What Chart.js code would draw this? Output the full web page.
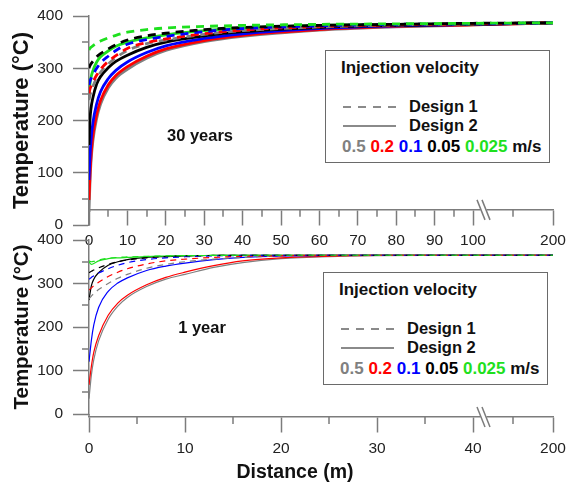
<!DOCTYPE html>
<html>
<head>
<meta charset="utf-8">
<script src="https://cdn.jsdelivr.net/npm/chart.js@4.4.1/dist/chart.umd.min.js"></script>
<style>
  body { margin: 0; background: #fff; font-family: "Liberation Sans", Arial, sans-serif; }
  #wrap { position: relative; width: 566px; height: 483px; overflow: hidden; }
  canvas { position: absolute; left: 0; }
  #top { top: 0; }
  #bottom { top: 230px; }
  .note { position: absolute; font-weight: bold; font-size: 16.5px; color: #111; white-space: nowrap; transform: translate(-50%, -50%); }
  #xtitle { position: absolute; left: 295px; top: 471px; font-weight: bold; font-size: 19.5px; color: #111; white-space: nowrap; transform: translate(-50%, -50%); }
  .key { position: absolute; box-sizing: border-box; width: 225px; height: 113px; border: 1.5px solid #6a6a6a; background: #fff; }
  .key div { position: absolute; white-space: nowrap; font-weight: bold; line-height: 1; color: #111; }
  .key .head { left: 15px; top: 8px; font-size: 17px; }
  .key .d1 { left: 83px; top: 47px; font-size: 16.5px; }
  .key .d2 { left: 83px; top: 66px; font-size: 16.5px; }
  .key .vel { left: 16px; top: 87px; font-size: 17px; }
  .key .dash { left: 17px; top: 55px; width: 53px; height: 1.5px; background: repeating-linear-gradient(to right, #8a8a8a 0 8px, transparent 8px 15px); }
  .key .solid { left: 17px; top: 74px; width: 53px; height: 1.5px; background: #8a8a8a; }
</style>
</head>
<body>
<div id="wrap">
  <canvas id="top" width="566" height="270"></canvas>
  <canvas id="bottom" width="566" height="253"></canvas>
  <div class="note" style="left:200px;top:135px">30 years</div>
  <div class="note" style="left:202px;top:327px">1 year</div>
  <div id="xtitle">Distance (m)</div>
</div>
<script>
const velocities = ['0.5', '0.2', '0.1', '0.05', '0.025'];
const velColors = ['#808080', '#ff0000', '#0000ff', '#000000', '#1ee01e'];

// 30 years: distance (m) and temperature (°C)
const dist30 = [0, 0.25, 0.5, 1, 2, 3, 5, 7, 10, 15, 20, 30, 40, 60, 80, 100, 200];
const d1_30_v05 = [239, 248, 255, 265, 281, 292, 308, 320, 334, 347, 354, 365, 372, 379, 383, 385, 387];
const d1_30_v02 = [252, 260, 265, 273, 287, 298, 313, 324, 338, 349, 356, 366, 373, 380, 383, 385, 387];
const d1_30_v01 = [268, 275, 280, 287, 300, 310, 323, 334, 346, 355, 361, 370, 376, 381, 384, 385, 387];
const d1_30_v005 = [300, 305, 308, 313, 322, 328, 337, 345, 354, 362, 367, 374, 378, 382, 384, 386, 387];
const d1_30_v0025 = [335, 338, 340, 343, 348, 352, 358, 363, 369, 374, 377, 380, 382, 384, 385, 386, 387];
const d2_30_v05 = [25, 80, 118, 160, 204, 231, 262, 281, 298, 319, 334, 351, 361, 373, 379, 383, 387];
const d2_30_v02 = [48, 95, 130, 170, 212, 238, 268, 286, 303, 323, 337, 353, 363, 374, 380, 383, 387];
const d2_30_v01 = [86, 130, 160, 195, 232, 255, 280, 296, 312, 330, 343, 357, 366, 376, 381, 384, 387];
const d2_30_v005 = [153, 200, 222, 243, 270, 284, 301, 313, 325, 340, 350, 362, 370, 378, 382, 384, 387];
const d2_30_v0025 = [245, 270, 282, 295, 312, 322, 333, 342, 350, 358, 364, 372, 377, 382, 384, 385, 387];

// 1 year
const dist1 = [0, 0.25, 0.5, 1, 2, 3, 4, 6, 8, 10, 13, 16, 20, 25, 30, 40, 200];
const d1_1_v05 = [265, 271, 277, 286, 300, 312, 321, 335, 344, 350, 356, 360, 363, 364.5, 365, 365, 365];
const d1_1_v02 = [285, 290, 295, 303, 316, 326, 334, 345, 352, 356, 360, 362.5, 364, 365, 365, 365, 365];
const d1_1_v01 = [310, 314, 318, 324, 334, 342, 348, 355, 359, 361.5, 363.5, 364.5, 365, 365, 365, 365, 365];
const d1_1_v005 = [325, 328, 331, 336, 344, 350, 354, 359, 362, 363.5, 364.5, 365, 365, 365, 365, 365, 365];
const d1_1_v0025 = [352, 350, 351, 354, 358, 360, 361, 362.5, 363.5, 364, 364.5, 365, 365, 365, 365, 365, 365];
const d2_1_v05 = [35, 90, 125, 168, 218, 248, 268, 293, 310, 321, 337, 348, 357, 362, 364, 365, 365];
const d2_1_v02 = [67, 110, 142, 180, 227, 255, 273, 297, 314, 326, 341, 352, 359, 363, 364.5, 365, 365];
const d2_1_v01 = [120, 170, 205, 245, 282, 301, 313, 330, 340, 347, 355, 360, 363, 364.5, 365, 365, 365];
const d2_1_v005 = [262, 295, 310, 325, 342, 350, 355, 360, 362, 363.5, 364.5, 365, 365, 365, 365, 365, 365];
const d2_1_v0025 = [350, 344, 346, 352, 357, 359, 360, 362, 363, 364, 364.5, 365, 365, 365, 365, 365, 365];

// x tick labels
const ticks30 = [0, 10, 20, 30, 40, 50, 60, 70, 80, 90, 100, 200];
const minor30 = [5, 15, 25, 35, 45, 55, 65, 75, 85, 95, 150];
const ticks1 = [0, 10, 20, 30, 40, 200];
const minor1 = [5, 15, 25, 35, 120];
const yMinor = [50, 150, 250, 350];

// broken axis: linear up to the break, squeezed from there to 200 m
const brk30 = x => x <= 100 ? x : 100 + (x - 100) * 0.2083;
const brk1 = x => x <= 40 ? x : 40 + (x - 40) * 0.05208;

Chart.defaults.font.family = '"Liberation Sans", Arial, sans-serif';
const axisGray = '#7c7c7c';
const tickFont = { size: 15.5 };

function buildSets(dist, d1, d2, brk, width, dash) {
  const sets = [];
  const add = (series, i, dashed) => sets.push({
    label: 'Design ' + (dashed ? 1 : 2) + ' ' + velocities[i] + ' m/s',
    data: dist.map((d, k) => ({ x: brk(d), y: series[k] })),
    borderColor: velColors[i],
    borderWidth: width,
    borderDash: dashed ? dash : [],
    pointRadius: 0,
    cubicInterpolationMode: 'monotone',
    fill: false
  });
  // the first dataset is painted last, so dashed green sits on top
  for (let i = 4; i >= 0; i--) add(d1[i], i, true);
  for (let i = 4; i >= 0; i--) add(d2[i], i, false);
  return sets;
}

// short minor ticks and the // mark on the x axis
function axisExtras(o) {
  return {
    id: 'axisExtras',
    afterDraw(chart) {
      const ctx = chart.ctx, xs = chart.scales.x, ys = chart.scales.y;
      const axisY = ys.getPixelForValue(o.xAxisAt);
      const left = chart.chartArea.left;
      ctx.save();
      ctx.strokeStyle = axisGray;
      ctx.lineWidth = 1.5;
      ctx.beginPath();
      o.minor.forEach(d => {
        const px = Math.round(xs.getPixelForValue(o.brk(d)));
        ctx.moveTo(px, axisY); ctx.lineTo(px, axisY + 7);
      });
      yMinor.forEach(v => {
        const py = Math.round(ys.getPixelForValue(v));
        ctx.moveTo(left, py); ctx.lineTo(left - 7, py);
      });
      // y axis runs down to meet the x axis
      ctx.moveTo(left, ys.getPixelForValue(0)); ctx.lineTo(left, Math.max(axisY, ys.getPixelForValue(0)));
      ctx.stroke();
      const bx = xs.getPixelForValue(o.brk(o.breakAt)) + 10.5;
      ctx.fillStyle = '#fff';
      ctx.fillRect(bx - 3, axisY - 2, 6, 4);
      ctx.beginPath();
      ctx.moveTo(bx - 6.5, axisY - 10); ctx.lineTo(bx + 1.5, axisY + 10);
      ctx.moveTo(bx - 1.5, axisY - 10); ctx.lineTo(bx + 6.5, axisY + 10);
      ctx.stroke();
      ctx.restore();
    }
  };
}

function panel(id, o) {
  new Chart(document.getElementById(id), {
    type: 'line',
    data: { datasets: buildSets(o.dist, o.d1, o.d2, o.brk, o.width, o.dash) },
    options: {
      responsive: false,
      animation: false,
      events: [],
      layout: { padding: { top: o.padTop, right: 13, left: 0, bottom: o.padBottom } },
      plugins: { legend: { display: false }, tooltip: { enabled: false } },
      scales: {
        x: {
          type: 'linear',
          position: { y: o.xAxisAt },
          min: 0,
          max: o.brk(200),
          afterBuildTicks: s => { s.ticks = o.ticks.map(d => ({ value: o.brk(d) })); },
          afterFit: s => { s.paddingLeft = 0; s.paddingRight = 0; s.paddingTop = 0; s.paddingBottom = 0; },
          grid: { drawOnChartArea: false, tickLength: 15, tickColor: axisGray, tickWidth: 1.5 },
          border: { color: axisGray, width: 1.5 },
          ticks: { autoSkip: false, maxRotation: 0, padding: 7, color: '#222', font: tickFont,
                   callback: (v, i) => String(o.ticks[i]) }
        },
        y: {
          min: 0,
          max: 400,
          afterFit: s => { s.width = 89; s.paddingTop = 0; s.paddingBottom = 0; },
          grid: { drawOnChartArea: false, tickLength: 16, tickColor: axisGray, tickWidth: 1.5 },
          border: { color: axisGray, width: 1.5 },
          ticks: { stepSize: 100, padding: 10, color: '#222', font: tickFont },
          title: { display: true, text: 'Temperature (°C)', color: '#111',
                   font: { size: o.titleSize, weight: 'bold' }, padding: { top: o.titlePad, bottom: 0 } }
        }
      }
    },
    plugins: [axisExtras(o)]
  });
}

panel('top', {
  dist: dist30,
  d1: [d1_30_v05, d1_30_v02, d1_30_v01, d1_30_v005, d1_30_v0025],
  d2: [d2_30_v05, d2_30_v02, d2_30_v01, d2_30_v005, d2_30_v0025],
  brk: brk30, breakAt: 100, ticks: ticks30, minor: minor30,
  width: 2.8, dash: [8, 6],
  xAxisAt: 29, padTop: 16, padBottom: 45,
  titleSize: 22, titlePad: 8.8
});

panel('bottom', {
  dist: dist1,
  d1: [d1_1_v05, d1_1_v02, d1_1_v01, d1_1_v005, d1_1_v0025],
  d2: [d2_1_v05, d2_1_v02, d2_1_v01, d2_1_v005, d2_1_v0025],
  brk: brk1, breakAt: 40, ticks: ticks1, minor: minor1,
  width: 1.2, dash: [6, 5],
  xAxisAt: -7, padTop: 10, padBottom: 69,
  titleSize: 20.5, titlePad: 9.7
});

// legend boxes
function makeKey(left, top) {
  const box = document.createElement('div');
  box.className = 'key';
  box.style.left = left + 'px';
  box.style.top = top + 'px';
  const vel = velocities.map((v, i) => '<span style="color:' + velColors[i] + '">' + v + '</span>').join(' ');
  box.innerHTML =
    '<div class="head">Injection velocity</div>' +
    '<div class="dash"></div><div class="d1">Design 1</div>' +
    '<div class="solid"></div><div class="d2">Design 2</div>' +
    '<div class="vel">' + vel + ' m/s</div>';
  document.getElementById('wrap').appendChild(box);
}
makeKey(325, 50);
makeKey(323, 272);
</script>
</body>
</html>
